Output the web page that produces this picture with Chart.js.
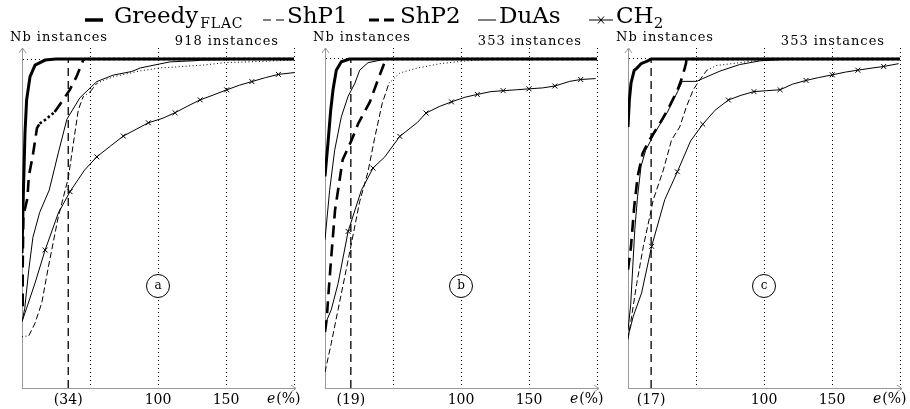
<!DOCTYPE html>
<html lang="en">
<head>
<meta charset="UTF-8">
<title>Nb instances</title>
<script src="https://cdn.jsdelivr.net/npm/chart.js@4.4.0/dist/chart.umd.min.js"></script>
<style>
  body { margin: 0; background: #fff; }
  #wrap { position: relative; width: 910px; height: 409px; overflow: hidden; font-family: "DejaVu Serif", serif; color: #000; }
  canvas { position: absolute; top: 0; }
  .key { position: absolute; top: 9px; }
  .name { position: absolute; top: 0; font-size: 23px; line-height: 30px; white-space: nowrap; }
  .sc { font-size: 14px; position: relative; top: 5px; margin-left: 2px; letter-spacing: 0.8px; }
  .sub { font-size: 15px; position: relative; top: 5px; }
</style>
</head>
<body>
<div id="wrap">
  <canvas id="pa" width="303" height="409" style="left:0"></canvas>
  <canvas id="pb" width="303" height="409" style="left:303px"></canvas>
  <canvas id="pc" width="304" height="409" style="left:606px"></canvas>

  <span class="key" style="left:85px"><svg width="18" height="8"><line x1="0" y1="4" x2="18" y2="4" stroke="#000" stroke-width="3.5"/></svg></span>
  <span class="name" style="left:114px">Greedy<span class="sc">FLAC</span></span>
  <span class="key" style="left:263px"><svg width="23" height="8"><line x1="0" y1="4" x2="23" y2="4" stroke="#000" stroke-width="1" stroke-dasharray="8,5"/></svg></span>
  <span class="name" style="left:287px">ShP1</span>
  <span class="key" style="left:369px"><svg width="25" height="8"><line x1="0" y1="4" x2="25" y2="4" stroke="#000" stroke-width="3" stroke-dasharray="10,5"/></svg></span>
  <span class="name" style="left:400px">ShP2</span>
  <span class="key" style="left:478px"><svg width="18" height="8"><line x1="0" y1="4" x2="18" y2="4" stroke="#000" stroke-width="1"/></svg></span>
  <span class="name" style="left:499px">DuAs</span>
  <span class="key" style="left:589px"><svg width="24" height="8"><line x1="0" y1="4" x2="24" y2="4" stroke="#000" stroke-width="1"/><path d="M9 0.5 L15 7.5 M15 0.5 L9 7.5" stroke="#000" stroke-width="1"/></svg></span>
  <span class="name" style="left:616px">CH<span class="sub">2</span></span>
</div>

<script>
const seriesNames = ['GreedyFLAC', 'ShP1', 'ShP2', 'DuAs', 'CH2'];
const panelLabels = ['a', 'b', 'c'];
const totals = [918, 353, 353];
const bestE = [34, 19, 17];
const xTicks = [50, 100, 150, 200];
const xLabels = ['', '100', '150', ''];

// (e %, nb instances)
// panel a
const greedyA = [[0,377],[1,543],[2.2,712],[3.4,804],[5.9,869],[9.6,901],[17,915],[25,918],[200,918]];
const shp1A = [[0,143],[5,146],[9.6,181],[14.5,237],[19.4,338],[26.7,478],[34,585],[37.7,681],[41.4,776],[45,813],[50,826],[55,850],[61,860],[67,868],[87,885],[101.5,893],[133,901],[150,908],[175,911],[200,915]];
const shp2A = [[0,232],[0.5,330],[1,480],[4,530],[5,590],[8,650],[11,725],[13,738],[17,748],[24,770],[31.6,812],[35,831],[40,868],[45,915],[46,918],[200,918]];
const duasA = [[0,185],[2,222],[5,330],[8,420],[13,490],[20,552],[26.7,656],[33,750],[42.6,810],[55,855],[67,873],[80.6,883],[87,893],[101,904],[109,910],[126,913],[133,915],[175,918],[200,918]];
const ch2A = [[0,185],[3.4,223],[9.6,293],[17,385],[26.7,488],[35.3,548],[46,608],[55,645],[65,675],[74.5,703],[84,722],[92.9,740],[103,752],[112.5,768],[122,787],[131,804],[141,818],[150.5,832],[160,845],[169,855],[179,866],[188.5,875],[200,880]];

// panel b
const greedyB = [[0,227],[2.2,263],[4.2,298],[5.9,320],[8.3,341],[12,350],[18,353],[200,353]];
const shp1B = [[0,17],[4.6,48],[9.6,84],[14.5,119],[19.4,155],[25.5,200],[31.6,232],[36.5,268],[42,305],[47,327],[55,338],[67,343],[84.6,348],[104,351],[129,353],[200,353]];
const shp2B = [[0,60],[1.2,73],[2.4,98],[4.4,137],[7.4,191],[13,245],[19.6,266],[24.5,284],[33,307],[39,331],[44,350],[45,353],[200,353]];
const duasB = [[0,159],[3.4,212],[7.1,255],[12,291],[17,313],[22,327],[25.5,341],[31.6,349],[41.4,352],[48,353],[200,353]];
const ch2B = [[0,68],[4.6,84],[9.6,112],[17,168],[26.7,212],[35.3,236],[44,248],[55,270],[68,285],[74.3,295],[84,302],[93,307],[103,312],[112,315],[122,318],[131,319],[141,320],[150,321],[160,322],[169,324],[180,329],[188,331],[199,332]];

// panel c
const greedyC = [[0,280],[1,309],[2.2,327],[4.6,341],[6.4,343],[9.6,348],[14.5,351],[17,353],[200,353]];
const shp1C = [[0,52],[2.7,77],[6.4,112],[11.3,152],[16,184],[18.6,202],[26,234],[32,266],[38,280],[43,302],[48,320],[53,331],[58,341],[65,346],[82,349],[97,352],[120,353],[200,353]];
const shp2C = [[0,127],[2.2,152],[4.6,195],[7.1,227],[10.8,252],[15.7,266],[21.8,280],[29,298],[36.5,320],[40,334],[42.6,348],[43,353],[200,353]];
const duasC = [[0,62],[2,90],[3.5,130],[5,170],[7,205],[9.6,238],[13,255],[19.4,273],[29,296],[36.5,318],[40,329],[50.5,329],[55,332],[67.6,340],[82,347],[97,351],[120,353],[200,353]];
const ch2C = [[0,55],[3.9,77],[10,102],[17.4,152],[27,202],[36.3,232],[46,265],[55,283],[64,298],[73.8,309],[83,314],[92.6,318],[102,319],[111.8,320],[121,326],[130.9,330],[140,333],[150.2,336],[160,339],[169,341],[178,343],[188,345],[199,348]];

const FONT = '"DejaVu Serif"';

// steep pieces dashed, flat pieces dotted (like the original)
function dashBy(steep, flat) {
  return ctx => Math.abs(ctx.p1.y - ctx.p0.y) >= Math.abs(ctx.p1.x - ctx.p0.x) ? steep : flat;
}
// a cross on every other point of CH2
function markEvery(ctx) {
  const i = ctx.dataIndex;
  return i >= 3 && (i - 3) % 2 === 0 ? 3.5 : 0;
}

const decor = {
  id: 'decor',
  afterDraw(chart, args, o) {
    const {ctx, chartArea: a, scales: {x, y}} = chart;
    ctx.save();
    // arrow heads
    ctx.strokeStyle = '#999';
    ctx.lineWidth = 1;
    ctx.beginPath();
    ctx.moveTo(a.left - 3, a.top + 5); ctx.lineTo(a.left + 0.5, a.top); ctx.lineTo(a.left + 4, a.top + 5);
    ctx.moveTo(a.right, a.bottom + 0.5); ctx.lineTo(a.right + 2, a.bottom + 0.5);
    ctx.moveTo(a.right - 3, a.bottom - 3); ctx.lineTo(a.right + 2, a.bottom + 0.5); ctx.lineTo(a.right - 3, a.bottom + 4);
    ctx.stroke();

    ctx.fillStyle = '#000';
    ctx.textBaseline = 'alphabetic';
    ctx.font = '13px ' + FONT;
    ctx.letterSpacing = '1px';
    ctx.textAlign = 'left';
    ctx.fillText('Nb instances', a.left - 12, 40.5);
    ctx.textAlign = 'right';
    ctx.fillText(o.total + ' instances', a.right - 15, 45);

    // e(%)
    ctx.letterSpacing = '0px';
    ctx.textAlign = 'left';
    ctx.font = 'italic 14px ' + FONT;
    ctx.fillText('e', a.right - 27, 403);
    const w = ctx.measureText('e').width;
    ctx.font = '14px ' + FONT;
    ctx.fillText('(%)', a.right - 27 + w + 1, 403);

    // circled panel letter
    const cx = x.getPixelForValue(100), cy = y.getPixelForValue(o.total * 0.31);
    ctx.beginPath();
    ctx.arc(cx, cy, 11.5, 0, Math.PI * 2);
    ctx.fillStyle = '#fff';
    ctx.fill();
    ctx.strokeStyle = '#000';
    ctx.stroke();
    ctx.fillStyle = '#000';
    ctx.font = '12px ' + FONT;
    ctx.textAlign = 'center';
    ctx.textBaseline = 'middle';
    ctx.fillText(o.label, cx, cy);
    ctx.restore();
  }
};

function drawPanel(id, k, lists) {
  const N = totals[k];
  const best = bestE[k];
  const canvas = document.getElementById(id);
  const pts = list => list.map(([e, n]) => ({x: e, y: n}));
  new Chart(canvas, {
    type: 'line',
    data: {
      datasets: [
        { label: 'best', data: pts([[best, 0], [best, N]]), borderWidth: 1.3, borderDash: [8, 5] },
        { label: seriesNames[0], data: pts(lists[0]), borderWidth: 3 },
        { label: seriesNames[1], data: pts(lists[1]), borderWidth: 1, segment: { borderDash: dashBy([6, 3], [1, 2.5]) } },
        { label: seriesNames[2], data: pts(lists[2]), borderWidth: 2.6, segment: { borderDash: dashBy([12, 7], [2.5, 2.5]) } },
        { label: seriesNames[3], data: pts(lists[3]), borderWidth: 1 },
        { label: seriesNames[4], data: pts(lists[4]), borderWidth: 1, pointStyle: 'crossRot', pointRadius: markEvery, pointBorderColor: '#000', pointBorderWidth: 1 }
      ]
    },
    options: {
      responsive: false,
      animation: false,
      events: [],
      layout: { padding: { top: 48, right: canvas.width - 294, left: 0, bottom: 0 } },
      elements: {
        line: { borderColor: '#000', tension: 0, fill: false },
        point: { radius: 0, hoverRadius: 0 }
      },
      plugins: {
        legend: { display: false },
        tooltip: { enabled: false },
        decor: { total: N, label: panelLabels[k] }
      },
      scales: {
        x: {
          type: 'linear',
          min: 0,
          max: 200,
          afterFit: s => { s.height = 21; },
          afterBuildTicks: s => { s.ticks = [best, ...xTicks].map(v => ({ value: v })); },
          ticks: {
            autoSkip: false,
            maxRotation: 0,
            padding: 4,
            color: '#000',
            font: { family: 'DejaVu Serif', size: 14 },
            callback: v => v === best ? '(' + best + ')' : xLabels[xTicks.indexOf(v)]
          },
          grid: { drawTicks: false, lineWidth: 1, color: c => c.tick && c.tick.value === best ? 'rgba(0,0,0,0)' : '#000' },
          border: { color: '#999', width: 1, dash: [1, 3] }
        },
        y: {
          min: 0,
          max: N * 340 / 329,
          afterFit: s => { s.width = 22; },
          afterBuildTicks: s => { s.ticks = [{ value: N }]; },
          ticks: { display: false },
          grid: { drawTicks: false, lineWidth: 1, color: '#000' },
          border: { color: '#999', width: 1, dash: [1, 3] }
        }
      }
    },
    plugins: [decor]
  });
}

drawPanel('pa', 0, [greedyA, shp1A, shp2A, duasA, ch2A]);
drawPanel('pb', 1, [greedyB, shp1B, shp2B, duasB, ch2B]);
drawPanel('pc', 2, [greedyC, shp1C, shp2C, duasC, ch2C]);
</script>
</body>
</html>
